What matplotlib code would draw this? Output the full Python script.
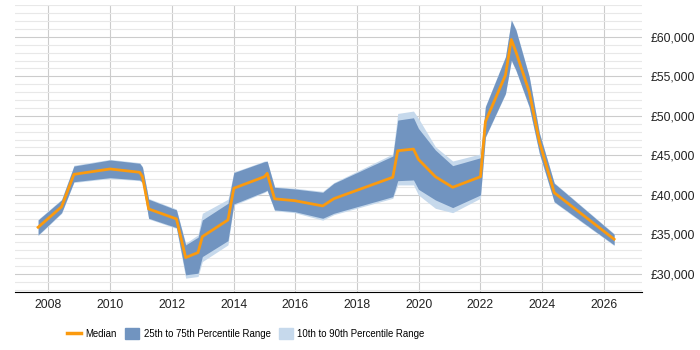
import matplotlib
matplotlib.use("Agg")
import matplotlib.pyplot as plt
from matplotlib.ticker import MultipleLocator, FuncFormatter
from matplotlib.lines import Line2D
from matplotlib.patches import Patch

plt.rcParams['font.family'] = ['Liberation Sans', 'DejaVu Sans']

# data
years = [2007.67, 2008.43, 2008.83, 2010.0, 2010.96, 2011.05, 2011.25, 2012.15,
         2012.45, 2012.85, 2012.99, 2013.82, 2014.01, 2015.0, 2015.09, 2015.33,
         2015.98, 2016.89, 2017.25, 2019.16, 2019.32, 2019.83, 2019.99, 2020.54,
         2021.10, 2022.0, 2022.16, 2022.81, 2023.0, 2023.15, 2023.58, 2023.91,
         2024.39, 2026.33]
median = [35900, 38500, 42600, 43280, 42860, 42300, 38220, 36960,
          32070, 32700, 34720, 36830, 40840, 42300, 42730, 39500,
          39270, 38600, 39520, 42230, 45590, 45800, 44500, 42300,
          40960, 42300, 49260, 55160, 59670, 58100, 53050, 46730,
          40280, 34390]
p75 = [36830, 39360, 43650, 44420, 44000, 43500, 39450, 38100,
       33670, 34640, 36830, 38940, 42820, 44200, 44250, 40960,
       40750, 40330, 41470, 44920, 49470, 49760, 48420, 45680,
       43700, 44700, 51150, 57470, 62110, 60850, 54940, 47790,
       41470, 35020]
p25 = [34930, 37750, 41670, 42180, 41890, 41600, 37040, 35860,
       29880, 30090, 32190, 34210, 38850, 40410, 40600, 38100,
       37880, 37040, 37670, 39780, 41800, 41890, 40710, 39360,
       38390, 39990, 47360, 52850, 57050, 55790, 51150, 45260,
       39140, 33670]
p90 = [36900, 39450, 43750, 44500, 44080, 43600, 39550, 38200,
       33890, 34940, 37670, 39450, 42900, 44280, 44320, 41050,
       40850, 40450, 41560, 45180, 50310, 50610, 49690, 46100,
       44290, 45180, 51250, 57550, 62200, 60950, 55050, 47900,
       41550, 35100]
p10 = [34850, 37650, 41570, 42080, 41800, 41500, 36950, 35760,
       29460, 29670, 31560, 33670, 38700, 40300, 40500, 38000,
       37750, 36800, 37500, 39570, 41260, 41260, 39990, 38300,
       37750, 39570, 47260, 52750, 56950, 55690, 51050, 45150,
       39050, 33580]

fig = plt.figure(figsize=(7, 3.5), dpi=100)
ax = fig.add_axes([0.0214, 0.166, 0.8956, 0.82])

ax.fill_between(years, p10, p90, color='#c6d9ec', linewidth=0, zorder=2)
ax.fill_between(years, p25, p75, color='#7194c0', linewidth=0, zorder=3)
ax.plot(years, median, color='#fb9a0e', linewidth=2, zorder=4)

ax.set_xlim(2006.92, 2027.23)
ax.set_ylim(27720, 64050)
ax.xaxis.set_major_locator(MultipleLocator(2))
ax.yaxis.set_major_locator(MultipleLocator(5000))
ax.yaxis.set_minor_locator(MultipleLocator(1000))
ax.yaxis.set_major_formatter(FuncFormatter(lambda v, p: '£{:,.0f}'.format(v)))
ax.yaxis.tick_right()

ax.grid(which='major', axis='both', color='#cccccc', linewidth=0.8, zorder=0)
ax.grid(which='minor', axis='y', color='#e8e8e8', linewidth=0.8, zorder=0)
ax.set_axisbelow(True)

for s in ['top', 'left', 'right']:
    ax.spines[s].set_visible(False)
ax.spines['bottom'].set_color('#000000')
ax.tick_params(axis='both', which='both', length=0, labelsize=8.7, colors='#222222')
ax.tick_params(axis='x', pad=5)
ax.tick_params(axis='y', pad=6)

handles = [Line2D([], [], color='#fb9a0e', linewidth=2.5),
           Patch(color='#7194c0'), Patch(color='#c6d9ec')]
labels = ['Median', '25th to 75th Percentile Range', '10th to 90th Percentile Range']
fig.legend(handles, labels, loc='center', bbox_to_anchor=(0.351, 0.047), ncol=3,
           frameon=False, fontsize=6.9, handlelength=1.5, handleheight=1.28,
           columnspacing=0.85, handletextpad=0.43)

fig.savefig('out.png', dpi=100)
